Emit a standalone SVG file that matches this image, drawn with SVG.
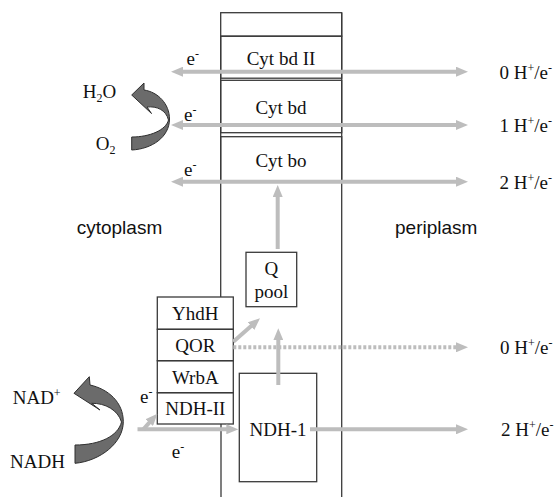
<svg xmlns="http://www.w3.org/2000/svg" width="556" height="497" viewBox="0 0 556 497">
<style>
.t{font-family:"Liberation Serif","Times New Roman",serif;font-size:19px;fill:#111}
.s{font-family:"Liberation Sans",Arial,sans-serif;font-size:19px;fill:#111}
.box{fill:none;stroke:#3a3a3a;stroke-width:1.3}
.arr{fill:none;stroke:#bdbdbd;stroke-width:4}
.dot{fill:none;stroke:#bdbdbd;stroke-width:4;stroke-dasharray:3 2}
.curl{fill:#6b6b6b;stroke:#2e2e2e;stroke-width:1}
.sup{font-size:12px}
</style>
<defs>
<marker id="ah" markerUnits="userSpaceOnUse" markerWidth="12" markerHeight="10" refX="4" refY="5" orient="auto-start-reverse">
<path d="M0,0 L12,5 L0,10 z" fill="#bdbdbd"/>
</marker>
</defs>
<rect width="556" height="497" fill="#fff"/>

<g id="membrane">
<rect class="box" x="220.7" y="12.7" width="121" height="23.5"/>
<line class="box" x1="220.7" y1="36" x2="220.7" y2="297"/>
<line class="box" x1="221" y1="424" x2="221" y2="497"/>
<line class="box" x1="341.7" y1="12.7" x2="341.7" y2="497"/>
</g>

<g id="cytbd2">
<rect class="box" x="220.7" y="36.2" width="121" height="42"/>
<text class="t" x="281" y="65" text-anchor="middle">Cyt bd II</text>
</g>
<g id="cytbd">
<rect class="box" x="220.7" y="80.3" width="121" height="52.4"/>
<text class="t" x="281" y="113.5" text-anchor="middle">Cyt bd</text>
</g>
<g id="cytbo">
<rect class="box" x="220.7" y="136.7" width="121" height="45"/>
<text class="t" x="281" y="167" text-anchor="middle">Cyt bo</text>
</g>

<g id="qpool">
<rect class="box" x="246" y="252.3" width="50.7" height="54.4"/>
<text class="t" x="271.3" y="275" text-anchor="middle">Q</text>
<text class="t" x="271.3" y="298" text-anchor="middle">pool</text>
</g>

<g id="yhdh">
<rect class="box" x="157.3" y="297" width="76" height="32.3"/>
<text class="t" x="195.3" y="320" text-anchor="middle">YhdH</text>
</g>
<g id="qor">
<rect class="box" x="157.3" y="329.3" width="76" height="31.4"/>
<text class="t" x="195.3" y="352" text-anchor="middle">QOR</text>
</g>
<g id="wrba">
<rect class="box" x="157.3" y="360.7" width="76" height="32"/>
<text class="t" x="195.3" y="383.5" text-anchor="middle">WrbA</text>
</g>
<g id="ndh2">
<rect class="box" x="157.3" y="392.7" width="76" height="31.3"/>
<text class="t" x="195.3" y="415" text-anchor="middle">NDH-II</text>
</g>

<g id="ndh1">
<rect class="box" x="239.3" y="373.3" width="77.4" height="108.4"/>
<text class="t" x="278" y="435.5" text-anchor="middle">NDH-1</text>
</g>

<g id="connectors">
<line class="arr" x1="179" y1="71.7" x2="460" y2="71.7" marker-start="url(#ah)" marker-end="url(#ah)"/>
<line class="arr" x1="179" y1="125" x2="460" y2="125" marker-start="url(#ah)" marker-end="url(#ah)"/>
<line class="arr" x1="179" y1="181.7" x2="460" y2="181.7" marker-start="url(#ah)" marker-end="url(#ah)"/>
<line class="arr" x1="277.7" y1="249" x2="277.7" y2="193" marker-end="url(#ah)"/>
<line class="arr" x1="233.3" y1="341.7" x2="254" y2="323.5" marker-end="url(#ah)"/>
<line class="arr" x1="278.3" y1="385" x2="278.3" y2="336.3" marker-end="url(#ah)"/>
<line class="dot" x1="233.3" y1="347.3" x2="460" y2="347.3" marker-end="url(#ah)"/>
<line class="arr" x1="310" y1="429.3" x2="460" y2="429.3" marker-end="url(#ah)"/>
<line class="arr" x1="137.5" y1="429.3" x2="230.3" y2="429.3" marker-end="url(#ah)"/>
<line class="arr" x1="143.3" y1="429.3" x2="152" y2="419.7" marker-end="url(#ah)"/>
</g>

<g id="o2-curl">
<path class="curl" d="M131.7,95 L144,83 L144,90 C158,92 169.5,104 169.5,119 C169.5,137 152,149 131.7,150 L131.7,137 C150,137 166,130 168.5,120 C166,110 157,106 147,107 L151.5,113.5 Z"/>
</g>
<g id="nadh-curl">
<path class="curl" d="M74,393.3 L89.3,376.7 L90,385 C108,389 123.3,402 123.3,421.7 C123.3,443 100,461 75,463.3 L75,445 C100,445 118,436 121.5,422 C118,410 105,403 91.7,403.3 L100,410 Z"/>
</g>

<g id="labels">
<text class="t" x="186.5" y="65">e<tspan class="sup" dy="-7">-</tspan></text>
<text class="t" x="184" y="120.5">e<tspan class="sup" dy="-7">-</tspan></text>
<text class="t" x="184" y="176">e<tspan class="sup" dy="-7">-</tspan></text>
<text class="t" x="140" y="403">e<tspan class="sup" dy="-7">-</tspan></text>
<text class="t" x="171.7" y="458">e<tspan class="sup" dy="-7">-</tspan></text>
<text class="t" x="82.7" y="98">H<tspan class="sup" dy="4">2</tspan><tspan dy="-4">O</tspan></text>
<text class="t" x="95.7" y="150">O<tspan class="sup" dy="4">2</tspan></text>
<text class="t" x="12.7" y="404">NAD<tspan class="sup" dy="-7">+</tspan></text>
<text class="t" x="10" y="468">NADH</text>
<text class="s" x="76.7" y="234">cytoplasm</text>
<text class="s" x="395" y="234">periplasm</text>
<text class="t" x="499.5" y="79">0 H<tspan class="sup" dy="-7">+</tspan><tspan dy="7">/e</tspan><tspan class="sup" dy="-7">-</tspan></text>
<text class="t" x="499.5" y="132">1 H<tspan class="sup" dy="-7">+</tspan><tspan dy="7">/e</tspan><tspan class="sup" dy="-7">-</tspan></text>
<text class="t" x="499.5" y="188.5">2 H<tspan class="sup" dy="-7">+</tspan><tspan dy="7">/e</tspan><tspan class="sup" dy="-7">-</tspan></text>
<text class="t" x="500" y="354">0 H<tspan class="sup" dy="-7">+</tspan><tspan dy="7">/e</tspan><tspan class="sup" dy="-7">-</tspan></text>
<text class="t" x="501" y="436">2 H<tspan class="sup" dy="-7">+</tspan><tspan dy="7">/e</tspan><tspan class="sup" dy="-7">-</tspan></text>
</g>
</svg>
